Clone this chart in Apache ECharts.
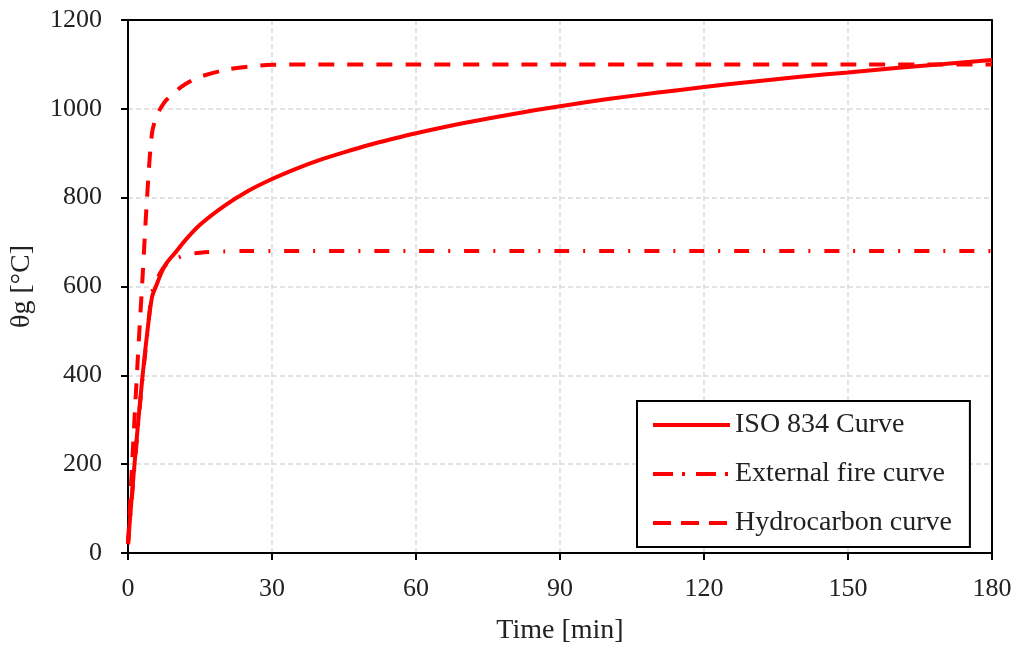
<!DOCTYPE html>
<html>
<head>
<meta charset="utf-8">
<title>Fire curves</title>
<script src="https://cdn.jsdelivr.net/npm/echarts@6/dist/echarts.min.js"></script>
<style>
  html, body { margin: 0; padding: 0; background: #fff; overflow: hidden; }
  #main { width: 1017px; height: 645px; }
</style>
</head>
<body>
<div id="main"></div>
<script>
// values (time in min, temperature in °C)
const isoTime = [0, 1, 2, 3, 4, 5, 6, 7, 8, 9, 10, 12, 15, 20, 25, 30, 35, 40, 45, 50, 55, 60, 70, 80, 90, 100, 110, 120, 130, 140, 150, 160, 170, 180];
const isoTemp = [20, 155, 280, 395, 495, 576, 605, 632, 652, 666, 678, 705, 739, 781, 815, 842, 865, 885, 902, 918, 932, 945, 968, 988, 1006, 1022, 1036, 1049, 1061, 1072, 1082, 1092, 1101, 1110];

const extTime = [0, 1, 2, 3, 4, 5, 6, 7, 8, 10, 12, 15, 20, 25, 30, 60, 90, 120, 150, 180];
const extTemp = [20, 150, 275, 390, 490, 585, 615, 636, 650, 663, 671, 676, 679, 680, 680, 680, 680, 680, 680, 680];

const hcTime = [0, 1, 2, 3, 4, 5, 6, 7, 8, 10, 12, 15, 20, 25, 30, 40, 60, 90, 120, 150, 180];
const hcTemp = [20, 230, 430, 615, 805, 945, 985, 1005, 1020, 1040, 1056, 1072, 1087, 1095, 1099, 1100, 1100, 1100, 1100, 1100, 1100];

const seriesNames = ['ISO 834 Curve', 'External fire curve', 'Hydrocarbon curve'];

const FONT = "'Liberation Serif', 'Times New Roman', serif";
const RED = '#ff0000';

function pairs(xs, ys) {
  return xs.map((x, i) => [x, ys[i]]);
}

const chart = echarts.init(document.getElementById('main'));

// light grey dashed grid like the excel export
const gridLine = {
  show: true,
  lineStyle: { color: '#d9d9d9', width: 1.5, type: [5, 3] }
};

const blackLine = { lineStyle: { color: '#000', width: 2 } };
const blackTick = { show: true, inside: false, length: 7, lineStyle: { color: '#000', width: 2 } };

// top / right axes only close the frame
const frameAxis = {
  axisLine: { show: true, onZero: false, lineStyle: { color: '#000', width: 2 } },
  axisTick: { show: false },
  axisLabel: { show: false },
  splitLine: { show: false }
};

const option = {
  backgroundColor: '#fff',
  animation: false,
  // v6 would shrink the grid to keep the names inside, keep it fixed instead
  grid: { left: 128, top: 20, width: 864, height: 533, containLabel: false, outerBoundsMode: 'none' },
  xAxis: [
    {
      type: 'value', min: 0, max: 180, interval: 30,
      name: 'Time [min]', nameLocation: 'middle', nameGap: 64,
      nameTextStyle: { fontFamily: FONT, fontSize: 28, color: '#222' },
      axisLine: blackLine, axisTick: blackTick,
      axisLabel: { fontFamily: FONT, fontSize: 26, color: '#222', margin: 23 },
      splitLine: gridLine
    },
    Object.assign({ type: 'value', position: 'top', min: 0, max: 180, interval: 30 }, frameAxis)
  ],
  yAxis: [
    {
      type: 'value', min: 0, max: 1200, interval: 200,
      name: 'θg [°C]', nameLocation: 'middle', nameRotate: 90, nameGap: 92,
      nameTextStyle: { fontFamily: FONT, fontSize: 28, color: '#222' },
      axisLine: Object.assign({ show: true }, blackLine), axisTick: blackTick,
      axisLabel: { fontFamily: FONT, fontSize: 26, color: '#222', margin: 26, formatter: (v) => String(v) },
      splitLine: gridLine
    },
    Object.assign({ type: 'value', position: 'right', min: 0, max: 1200, interval: 200 }, frameAxis)
  ],
  legend: {
    orient: 'vertical', left: 637, top: 401, padding: [10, 18, 10, 14],
    borderColor: '#000', borderWidth: 2, backgroundColor: '#fff',
    itemWidth: 77, itemHeight: 14, itemGap: 21, itemStyle: { opacity: 0 },
    textStyle: { fontFamily: FONT, fontSize: 28, color: '#222', lineHeight: 28 },
    data: [
      { name: seriesNames[0], lineStyle: { width: 4, type: 'solid' } },
      { name: seriesNames[1], lineStyle: { width: 4, type: [20, 9, 3, 11] } },
      { name: seriesNames[2], lineStyle: { width: 4, type: [18, 10] } }
    ]
  },
  series: [
    { name: seriesNames[0], type: 'line', data: pairs(isoTime, isoTemp), symbol: 'none', smooth: 0.3, z: 5,
      itemStyle: { color: RED }, lineStyle: { color: RED, width: 4 } },
    { name: seriesNames[1], type: 'line', data: pairs(extTime, extTemp), symbol: 'none', smooth: 0.3, z: 3,
      itemStyle: { color: RED }, lineStyle: { color: RED, width: 4, type: [15, 14, 2, 14] } },
    { name: seriesNames[2], type: 'line', data: pairs(hcTime, hcTemp), symbol: 'none', smooth: 0.3, z: 4,
      itemStyle: { color: RED }, lineStyle: { color: RED, width: 4, type: [16, 13] } }
  ]
};

chart.setOption(option);
</script>
</body>
</html>
